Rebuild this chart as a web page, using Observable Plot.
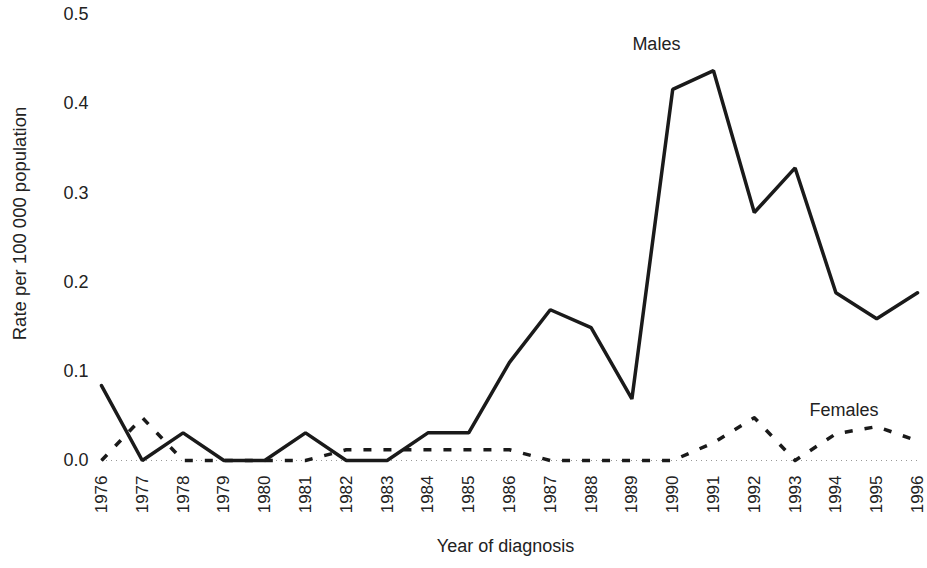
<!DOCTYPE html>
<html>
<head>
<meta charset="utf-8">
<script src="https://cdn.jsdelivr.net/npm/d3@7"></script>
<script src="https://cdn.jsdelivr.net/npm/@observablehq/plot@0.6"></script>
<style>
  html, body { margin: 0; padding: 0; background: #fff; }
  #chart svg { display: block; }
</style>
</head>
<body>
<div id="chart"></div>
<script>
const years = [1976,1977,1978,1979,1980,1981,1982,1983,1984,1985,1986,1987,1988,1989,1990,1991,1992,1993,1994,1995,1996];
const males = [0.084,0.0,0.031,0.0,0.0,0.031,0.0,0.0,0.031,0.031,0.110,0.169,0.149,0.069,0.416,0.437,0.278,0.328,0.188,0.159,0.188];
const females = [0.0,0.048,0.0,0.0,0.0,0.0,0.012,0.012,0.012,0.012,0.012,0.0,0.0,0.0,0.0,0.020,0.048,0.0,0.030,0.038,0.022];
const yTicks = [0, 0.1, 0.2, 0.3, 0.4, 0.5];
const seriesLabels = [
  {text: "Males", year: 1989.6, value: 0.467},
  {text: "Females", year: 1994.2, value: 0.056}
];
const yTitle = "Rate per 100 000 population";
const xTitle = "Year of diagnosis";

const maleData = years.map((y, i) => ({year: y, value: males[i]}));
const femaleData = years.map((y, i) => ({year: y, value: females[i]}));

const font = "'Liberation Sans', Arial, Helvetica, sans-serif";
const chart = Plot.plot({
  width: 927,
  height: 568,
  marginLeft: 101,
  marginRight: 10,
  marginTop: 14,
  marginBottom: 108,
  style: {fontFamily: font, fontSize: "18px", color: "#222", background: "#fff"},
  x: {domain: [1976, 1996], label: null},
  y: {domain: [0, 0.5], label: null},
  marks: [
    Plot.ruleY([0], {stroke: "#999", strokeDasharray: "1,4", strokeWidth: 1}),
    Plot.axisY(yTicks, {tickSize: 0, tickPadding: 13, tickFormat: d3.format(".1f"), fontSize: 18, fill: "#222"}),
    Plot.axisX(years, {tickSize: 0, tickPadding: 15, tickRotate: -90, tickFormat: d => String(d), fontSize: 17, fill: "#222"}),
    Plot.line(femaleData, {x: "year", y: "value", stroke: "#1a1a1a", strokeWidth: 3.5, strokeDasharray: "8,12", strokeLinecap: "butt"}),
    Plot.line(maleData, {x: "year", y: "value", stroke: "#1a1a1a", strokeWidth: 3.5, strokeLinejoin: "miter"}),
    Plot.text(seriesLabels, {x: "year", y: "value", text: "text", fontSize: 18, fill: "#222"}),
    Plot.text([yTitle], {frameAnchor: "left", dx: -81, dy: -14, rotate: -90, textAnchor: "middle", fontSize: 18.5, fill: "#222"}),
    Plot.text([xTitle], {frameAnchor: "bottom", dy: 91, dx: -4, textAnchor: "middle", fontSize: 18, fill: "#222"})
  ]
});
document.getElementById("chart").appendChild(chart);
</script>
</body>
</html>
